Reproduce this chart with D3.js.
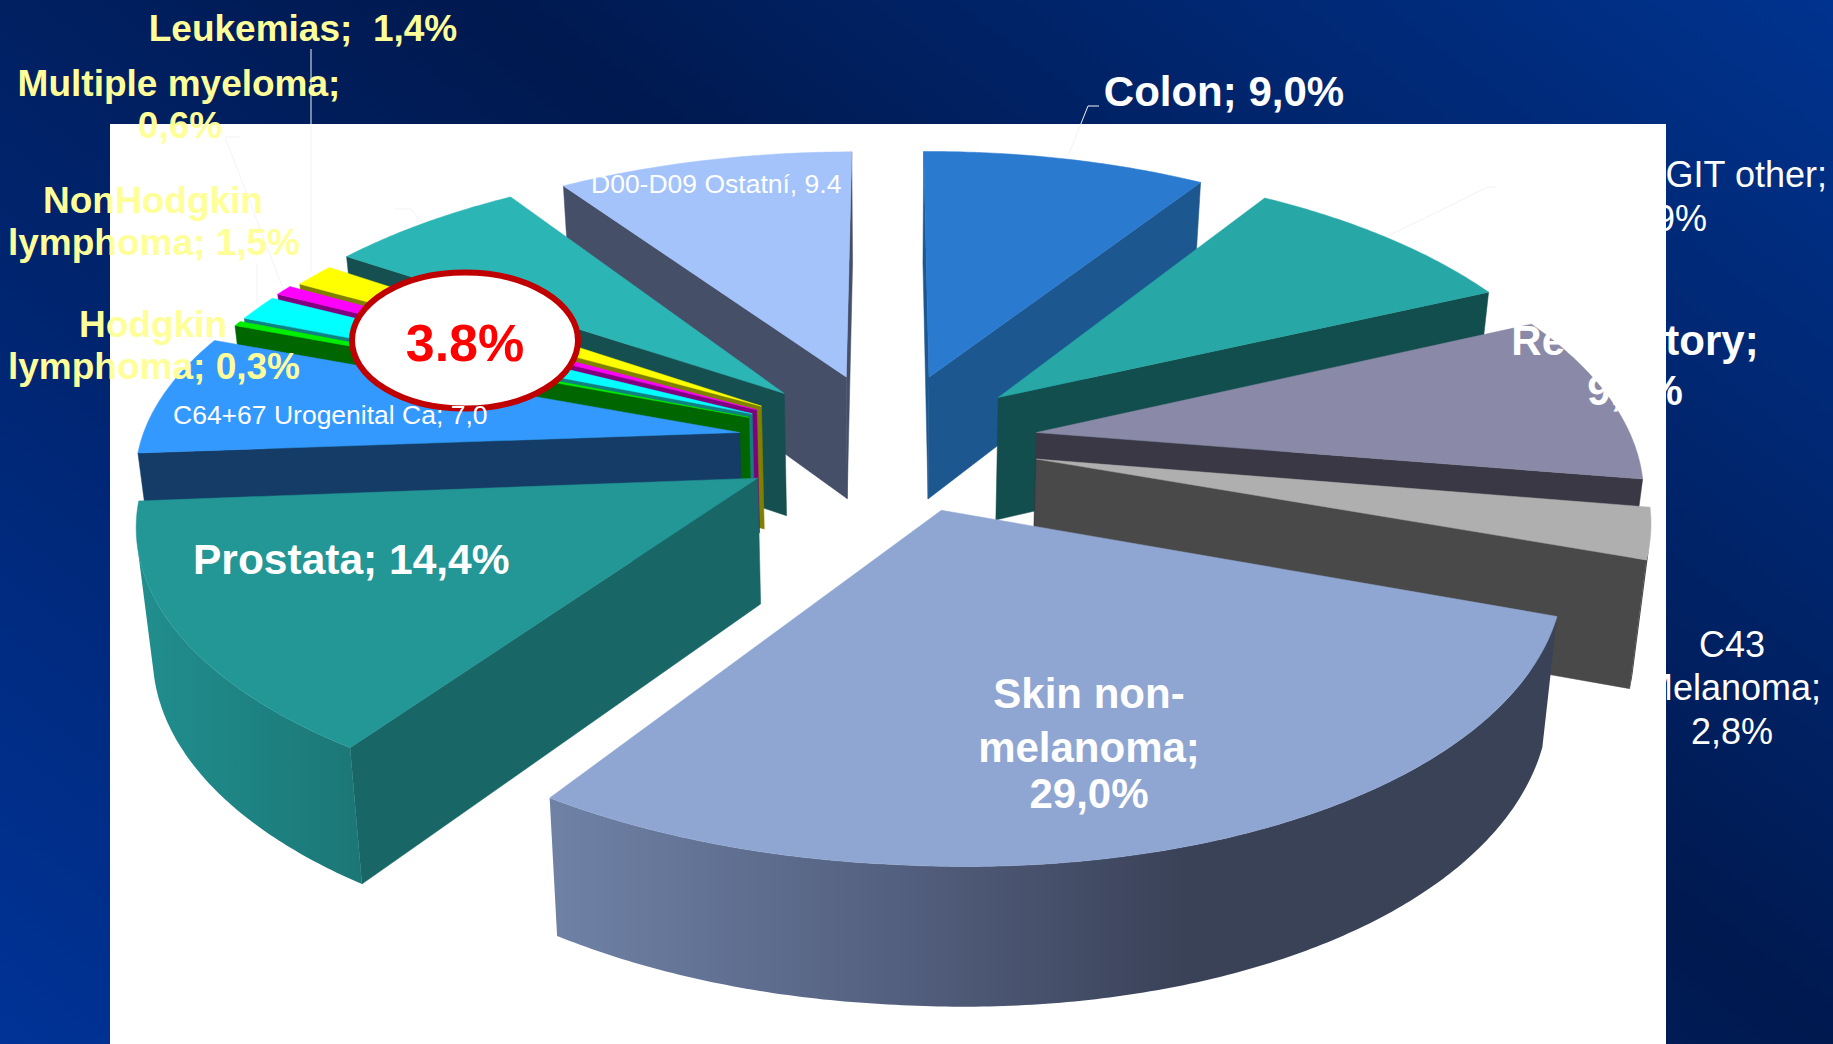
<!DOCTYPE html>
<html><head><meta charset="utf-8">
<script src="https://cdn.jsdelivr.net/npm/d3@7"></script>
<style>html,body{margin:0;padding:0;overflow:hidden;background:#001a55}svg{display:block}text{font-family:"Liberation Sans",Arial,sans-serif}</style>
</head><body><div id="chart"></div>
<script>
const categories=["Colon","GIT other","Respiratory","C43 Melanoma","Skin non-melanoma","Prostata","C64+67 Urogenital Ca","Hodgkin lymphoma","NonHodgkin lymphoma","Multiple myeloma","Leukemias","Breast","D00-D09 Ostatní"];
const values=[9.0,8.9,9.3,2.8,29.0,14.4,7.0,0.3,1.5,0.6,1.4,6.4,9.4];
const topColors=["#2a7bd0","#27a8a6","#8a8aa8","#afafaf","#8fa6d2","#239696","#3399ff","#00ee00","#00ffff","#ff00ff","#ffff00","#2cb5b5","#a3c3fa"];
const sideColors=["#1c5790","#124e4d","#393844","#494949","#3a4258","#186766","#143c66","#006600","#118080","#800080","#808000","#164f4f","#454f68"];
const rimStops=[null,null,null,null,[[0,"#6f82a6"],[0.35,"#535f7e"],[0.63,"#3a4258"],[1,"#3a4258"]],[[0,"#218e8e"],[1,"#1b7776"]],null,null,null,null,null,null,null];
// per-slice fit of the picture's slightly uneven 3-D rendering
const radiusFit=[1,1,0.996,0.993,1,0.995,0.993,0.98,0.98,0.98,0.97,0.985,1];
const rimShiftFit=[0,0,0,0,-0.018,0,0,0,0,0,0,0,0];
const rimShiftYFit=[0,0,0,0,-0.005,-0.01,-0.015,-0.025,-0.025,-0.028,-0.03,-0.022,0];
const startTrimFit=[0,0,0,0,0,0.02,0,0,0,0,0,0,0];

const W=1833,H=1044;
const svg=d3.select("#chart").append("svg").attr("width",W).attr("height",H);
const defs=svg.append("defs");
const bg=defs.append("linearGradient").attr("id","bg").attr("gradientUnits","userSpaceOnUse")
  .attr("x1",480+827*0.611).attr("y1",-827*0.792).attr("x2",480-1120*0.611).attr("y2",1120*0.792);
[[0,"#00338f"],[0.425,"#00194f"],[1,"#003397"]].forEach(s=>bg.append("stop").attr("offset",s[0]).attr("stop-color",s[1]));
svg.append("rect").attr("width",W).attr("height",H).attr("fill","url(#bg)");
svg.append("rect").attr("x",110).attr("y",124).attr("width",1556).attr("height",H-124).attr("fill","#fff");

// projection of the exploded pie
const explode=0.25,persp=0.155,heightPersp=0.0925,thick=124.3,taper=0.022;
const sx=d3.scaleLinear().domain([-1,1]).range([888.5-602,888.5+602]);
const sy=d3.scaleLinear().domain([-1,1]).range([441.5-278.7,441.5+278.7]);
function project(X,Y,z){
  const w=1-persp*Y;
  const px=sx(X/w)-sx(0);
  return [sx(0)+px*(1-taper*z), sy(Y/w)+(X<0?3:7)*X*(1+Y)+z*thick/(1-heightPersp*Y)];
}
const line=d3.line();
const slices=d3.pie().sort(null).value(d=>d)(values).map((a,i)=>{
  const mid=(a.startAngle+a.endAngle)/2;
  return {i,a0:a.startAngle,a1:a.endAngle,mid,ox:explode*Math.sin(mid),oy:-explode*Math.cos(mid)};
}).sort((p,q)=>(-Math.cos(p.mid))-(-Math.cos(q.mid)));

const plot=svg.append("g");
function visible(P,Pn,Q){return (Pn[0]-P[0])*(Q[1]-P[1])-(Pn[1]-P[1])*(Q[0]-P[0])<0;}
slices.forEach(s=>{
  const g=plot.append("g").attr("class","slice");
  const a0=s.a0+startTrimFit[s.i],r=radiusFit[s.i];
  const n=Math.max(2,Math.ceil((s.a1-a0)/0.01));
  const rim=d3.range(n+1).map(k=>a0+(s.a1-a0)*k/n).map(a=>[s.ox+rimShiftFit[s.i]+r*Math.sin(a),s.oy+rimShiftYFit[s.i]-r*Math.cos(a)]);
  const apex=[s.ox,s.oy];
  const T=p=>project(p[0],p[1],0),B=p=>project(p[0],p[1],1);
  [[apex,rim[0]],[rim[n],apex]].forEach(([p,q])=>{
    if(visible(T(p),T(q),B(p)))
      g.append("path").attr("d",line([T(p),T(q),B(q),B(p)])+"Z").attr("fill",sideColors[s.i]).attr("stroke",sideColors[s.i]).attr("stroke-width",0.5);
  });
  let runs=[],cur=null;
  for(let k=0;k<n;k++){
    if(visible(T(rim[k]),T(rim[k+1]),B(rim[k]))){ if(!cur){cur=[rim[k]];runs.push(cur);} cur.push(rim[k+1]); } else cur=null;
  }
  runs.forEach(rr=>{
    let fill=sideColors[s.i];
    const pts=rr.map(T).concat(rr.slice().reverse().map(B));
    if(rimStops[s.i]){
      const ex=d3.extent(pts,p=>p[0]),id="rim"+s.i;
      const gr=defs.append("linearGradient").attr("id",id).attr("gradientUnits","userSpaceOnUse").attr("x1",ex[0]).attr("x2",ex[1]).attr("y1",0).attr("y2",0);
      rimStops[s.i].forEach(st=>gr.append("stop").attr("offset",st[0]).attr("stop-color",st[1]));
      fill=`url(#${id})`;
    }
    g.append("path").attr("d",line(pts)+"Z").attr("fill",fill);
  });
  g.append("path").attr("d",line([T(apex)].concat(rim.map(T)))+"Z").attr("fill",topColors[s.i]).attr("stroke",topColors[s.i]).attr("stroke-width",0.5);
});

// leader lines
const leaderColor="#f3f3f3";
[[[311,49],[311,271]],[[1099,106],[1088,106],[1068,156]],[[239,137],[225,137],[282,286]],[[395,209],[411,209],[422,223]],[[1497,187],[1488,187],[1388,236]],[[257,264],[257,303]]]
.forEach(p=>svg.append("path").attr("d",line(p)).attr("fill","none").attr("stroke",leaderColor).attr("stroke-width",1));

// callout
svg.append("ellipse").attr("cx",465).attr("cy",340.5).attr("rx",113).attr("ry",68).attr("fill","#fff").attr("stroke","#c00000").attr("stroke-width",6);
svg.append("text").attr("x",465).attr("y",361).attr("text-anchor","middle").attr("font-size",52).attr("font-weight",700).attr("fill","#ff0000").text("3.8%");

// labels
const yellow="#ffff99",white="#ffffff";
const labelRows=[
 ["Leukemias;  1,4%",303,41,37,700,yellow,"middle"],
 ["Multiple myeloma;",179,96,37,700,yellow,"middle"],
 ["0,6%",180,138,37,700,yellow,"middle"],
 ["NonHodgkin",153,213,37,700,yellow,"middle"],
 ["lymphoma; 1,5%",154,255,37,700,yellow,"middle"],
 ["Hodgkin",153,337,37,700,yellow,"middle"],
 ["lymphoma; 0,3%",154,379,37,700,yellow,"middle"],
 ["Colon; 9,0%",1224,106,42,700,white,"middle"],
 ["GIT other;",1827,187,36,400,white,"end"],
 ["8,9%",1707,231,36,400,white,"end"],
 ["Respiratory;",1635,355,42,700,white,"middle"],
 ["9,3%",1635,405,42,700,white,"middle"],
 ["C43",1732,657,36,400,white,"middle"],
 ["Melanoma;",1732,700,36,400,white,"middle"],
 ["2,8%",1732,744,36,400,white,"middle"],
 ["Skin non-",1089,708,42,700,white,"middle"],
 ["melanoma;",1089,762,42,700,white,"middle"],
 ["29,0%",1089,808,42,700,white,"middle"],
 ["Prostata; 14,4%",193,574,42.5,700,white,"start"],
 ["C64+67 Urogenital Ca; 7,0",173,424,26.5,400,white,"start"],
 ["D00-D09 Ostatní, 9.4",591,193,26.5,400,white,"start"]
];
svg.append("g").selectAll("text").data(labelRows).join("text")
 .attr("x",d=>d[1]).attr("y",d=>d[2]).attr("font-size",d=>d[3]).attr("font-weight",d=>d[4]).attr("fill",d=>d[5]).attr("text-anchor",d=>d[6])
 .style("white-space","pre").text(d=>d[0]);
</script></body></html>
